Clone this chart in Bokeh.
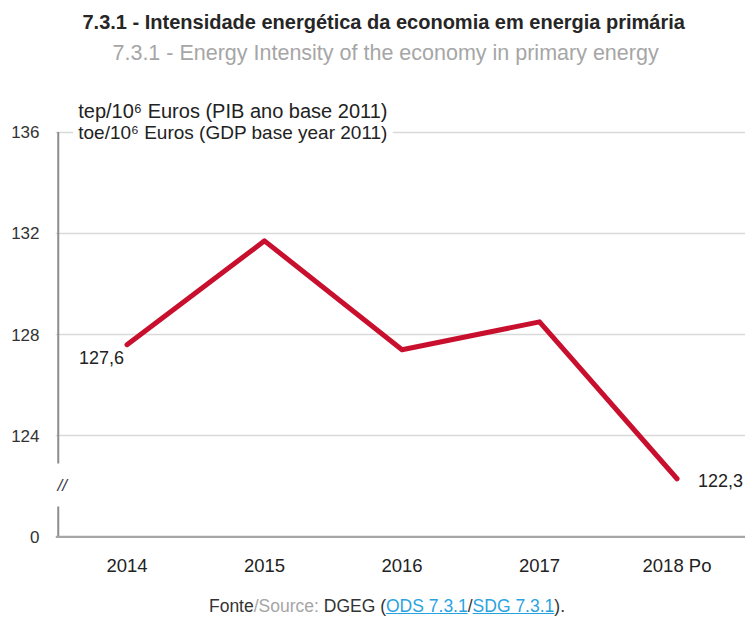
from bokeh.plotting import figure
from bokeh.models import Range1d, FixedTicker, Label, Span, Div, Title
from bokeh.layouts import column
from bokeh.embed import file_html
from bokeh.resources import INLINE

# ---- data ----
years = ["2014", "2015", "2016", "2017", "2018 Po"]
values = [127.6, 131.7, 127.4, 128.5, 122.3]
y_ticks = [120, 124, 128, 132, 136]
y_tick_labels = ["0", "124", "128", "132", "136"]
grid_ticks = [124, 128, 132, 136]
break_low = 121.2
break_high = 122.9

title_pt = "7.3.1 - Intensidade energética da economia em energia primária"
title_en = "7.3.1 - Energy Intensity of the economy in primary energy"
unit_pt = "tep/10\u2076 Euros (PIB ano base 2011)"
unit_en = "toe/10\u2076 Euros (GDP base year 2011)"

FONT = "Liberation Sans"
RED = "#c8102e"

xs = list(range(len(years)))
X0, X1 = -0.52, 4.498
Y0, Y1 = 119.9, 138.59

p = figure(width=745, height=588,
           x_range=Range1d(X0, X1), y_range=Range1d(Y0, Y1),
           output_backend="svg", toolbar_location=None, title=None,
           min_border_left=55, min_border_right=0,
           min_border_top=66, min_border_bottom=49)
p.outline_line_color = None
p.background_fill_color = "white"
p.border_fill_color = "white"

# grid
p.xgrid.visible = False
p.ygrid.ticker = FixedTicker(ticks=grid_ticks)
p.ygrid.grid_line_color = "#d9d9d9"
p.ygrid.grid_line_width = 1.6

# y axis (labels only)
p.yaxis.ticker = FixedTicker(ticks=y_ticks)
p.yaxis.major_label_overrides = {t: l for t, l in zip(y_ticks, y_tick_labels)}
p.yaxis.axis_line_color = None
p.yaxis.major_tick_line_color = None
p.yaxis.minor_tick_line_color = None
p.yaxis.major_tick_out = 0
p.yaxis.major_tick_in = 0
p.yaxis.major_label_standoff = 16
p.yaxis.major_label_text_font = FONT
p.yaxis.major_label_text_font_size = "17px"
p.yaxis.major_label_text_color = "#333333"

# x axis
p.xaxis.ticker = FixedTicker(ticks=xs)
p.xaxis.major_label_overrides = {i: y for i, y in zip(xs, years)}
p.xaxis.axis_line_color = None
p.xaxis.major_tick_line_color = None
p.xaxis.minor_tick_line_color = None
p.xaxis.major_tick_out = 0
p.xaxis.major_tick_in = 0
p.xaxis.major_label_standoff = 15
p.xaxis.major_label_text_font = FONT
p.xaxis.major_label_text_font_size = "18.5px"
p.xaxis.major_label_text_color = "#222222"

# baseline (zero)
p.add_layout(Span(location=y_ticks[0], dimension="width",
                  line_color="#a6a6a6", line_width=2.2))

# broken vertical axis
p.segment(x0=[-0.5, -0.5], y0=[y_ticks[-1], break_low],
          x1=[-0.5, -0.5], y1=[break_high, y_ticks[0]],
          line_color="#8c8c8c", line_width=2)
p.add_layout(Label(x=-0.5, y=(break_low + break_high) / 2, text="//",
                   x_offset=4, text_align="center", text_baseline="middle",
                   text_font=FONT, text_font_style="italic",
                   text_font_size="17px", text_color="#3a3a4a"))

# data line
p.line(xs, values, line_color=RED, line_width=5,
       line_join="round", line_cap="round")

def fmt(v):
    return f"{v:.1f}".replace(".", ",")

p.add_layout(Label(x=xs[0], y=values[0], text=fmt(values[0]),
                   text_align="right", text_baseline="middle",
                   x_offset=-3, y_offset=-13,
                   text_font=FONT, text_font_size="18px", text_color="#222222"))
p.add_layout(Label(x=xs[-1], y=values[-1], text=fmt(values[-1]),
                   text_align="left", text_baseline="middle",
                   x_offset=21, y_offset=-2,
                   text_font=FONT, text_font_size="18px", text_color="#222222"))

# unit labels
p.add_layout(Label(x=-0.5, y=y_ticks[-1], text=unit_en, x_offset=15,
                   text_baseline="middle", text_font=FONT,
                   text_font_size="19px", text_color="#222222",
                   background_fill_color="white", padding=5))
p.add_layout(Label(x=-0.5, y=y_ticks[-1], text=unit_pt, x_offset=20,
                   y_offset=21, text_baseline="middle", text_font=FONT,
                   text_font_size="20px", text_color="#222222"))

# titles (subtitle first: it sits nearest the plot)
p.add_layout(Title(text=title_en, align="left", offset=57, standoff=4,
                   text_font=FONT, text_font_size="21.5px",
                   text_font_style="normal", text_color="#a6a6a6"), "above")
p.add_layout(Title(text=title_pt, align="left", offset=27, standoff=7,
                   text_font=FONT, text_font_size="20px",
                   text_font_style="bold", text_color="#262626"), "above")

footer_html = (
    '<div style="width:718px;margin-left:23px;text-align:center;'
    'font-family:\'Liberation Sans\',Arial,sans-serif;font-size:17.5px;'
    'line-height:19px;color:#333;padding-top:4px;">'
    'Fonte<span style="color:#a6a6a6">/Source:</span> DGEG ('
    '<a href="#" style="color:#29a3e0;text-decoration:underline">ODS 7.3.1</a>/'
    '<a href="#" style="color:#29a3e0;text-decoration:underline">SDG 7.3.1</a>).</div>'
)
footer = Div(text=footer_html, width=745, height=23)

layout = column(p, footer)
open("out.html", "w").write(file_html(layout, INLINE))
